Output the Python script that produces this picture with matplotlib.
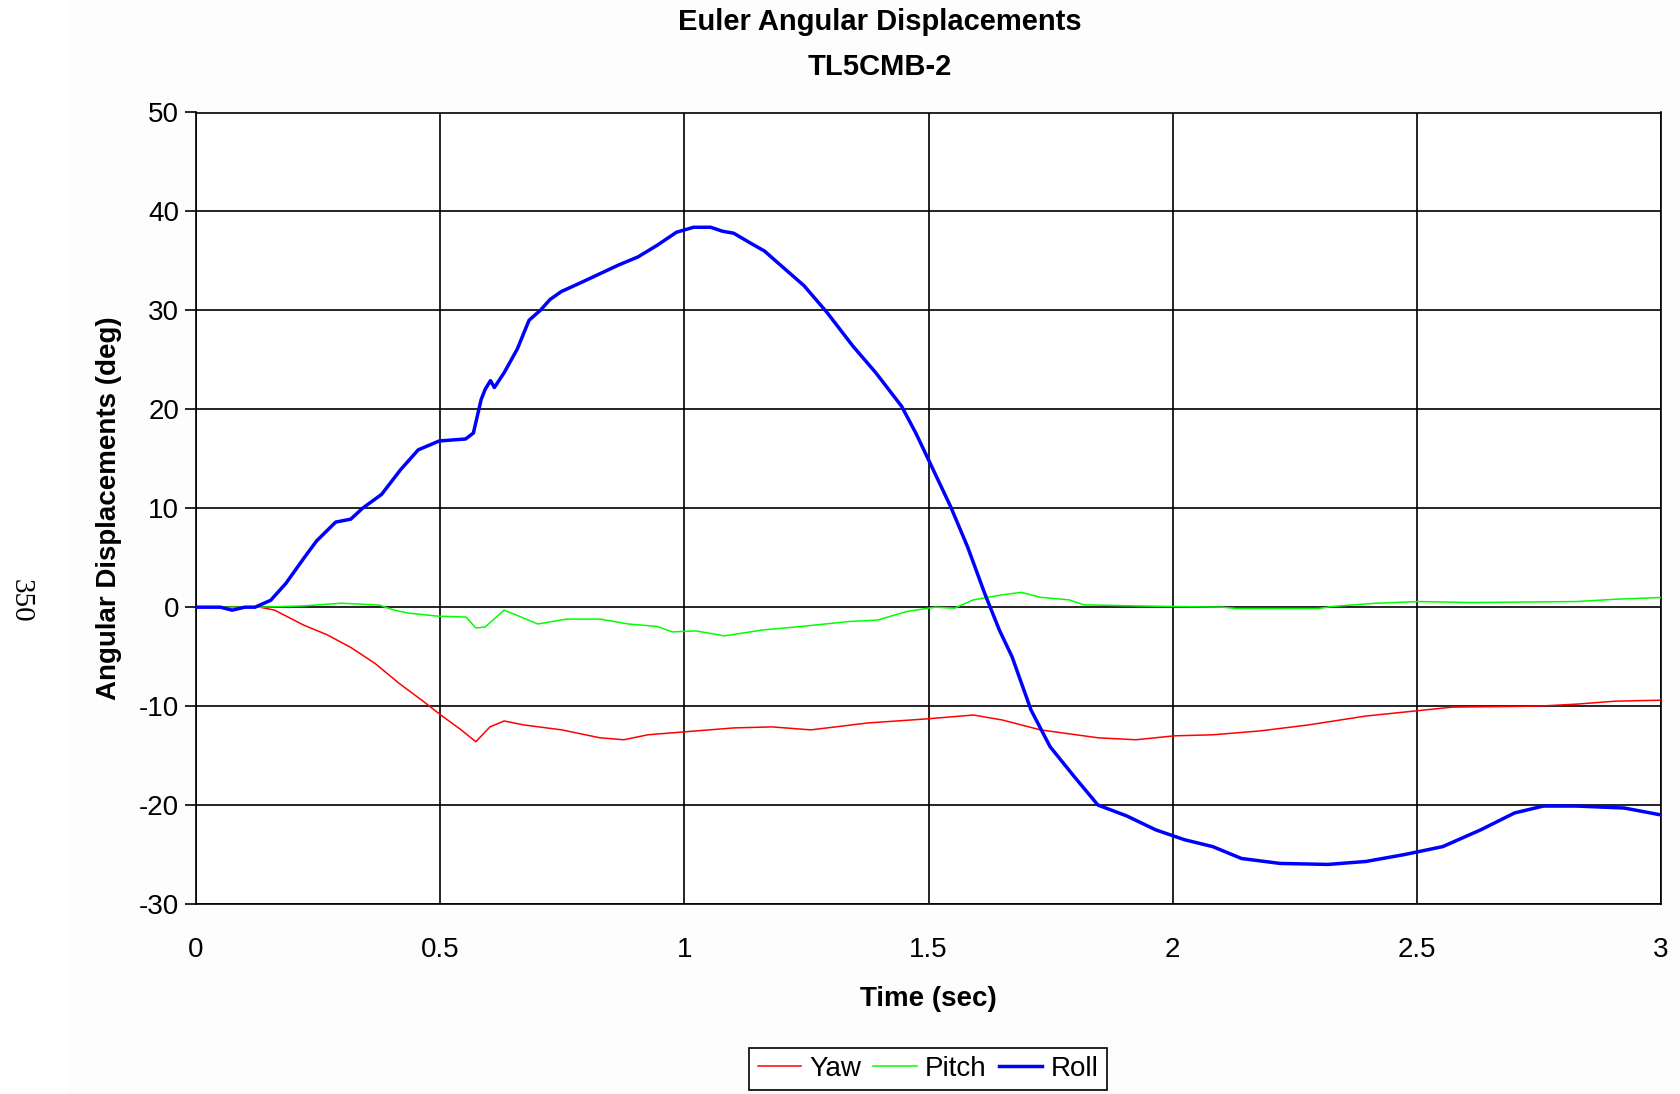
"""
Euler angular displacements, test TL5CMB-2
Yaw / pitch / roll traces vs time, Excel-like styling
"""
import matplotlib
matplotlib.use('Agg')
import matplotlib.pyplot as plt
from matplotlib.patches import Rectangle

# Data
# -----------------------------------
roll_t = [0.0, 0.05, 0.074, 0.1, 0.121, 0.153, 0.184, 0.223, 0.247, 0.286, 0.317, 0.341, 0.380,
          0.419, 0.455, 0.498, 0.552, 0.568, 0.584, 0.592, 0.603, 0.611, 0.631, 0.658, 0.682,
          0.705, 0.725, 0.748, 0.788, 0.827, 0.866, 0.905, 0.945, 0.984, 1.019, 1.054, 1.078,
          1.101, 1.132, 1.164, 1.194, 1.245, 1.292, 1.345, 1.392, 1.445, 1.474, 1.5, 1.545,
          1.580, 1.615, 1.645, 1.671, 1.710, 1.749, 1.798, 1.847, 1.906, 1.965, 2.024, 2.082,
          2.141, 2.220, 2.318, 2.396, 2.475, 2.553, 2.631, 2.700, 2.759, 2.827, 2.925, 3.0]
roll = [0.0, 0.0, -0.3, 0.0, 0.0, 0.7, 2.4, 5.1, 6.7, 8.6, 8.9, 10.0, 11.4,
        13.9, 15.9, 16.8, 17.0, 17.6, 21.0, 22.0, 22.9, 22.2, 23.7, 26.1, 29.0,
        30.0, 31.1, 31.9, 32.8, 33.7, 34.6, 35.4, 36.6, 37.9, 38.4, 38.4, 38.0,
        37.8, 36.9, 36.0, 34.7, 32.5, 29.8, 26.4, 23.7, 20.3, 17.6, 14.9, 10.2,
        6.1, 1.4, -2.3, -5.0, -10.4, -14.1, -17.1, -20.0, -21.1, -22.5, -23.5, -24.2,
        -25.4, -25.9, -26.0, -25.7, -25.0, -24.2, -22.5, -20.8, -20.1, -20.1, -20.3, -21.0]

yaw_t = [0.0, 0.131, 0.161, 0.220, 0.269, 0.318, 0.367, 0.416, 0.465, 0.504, 0.543, 0.573,
         0.602, 0.631, 0.671, 0.749, 0.827, 0.876, 0.925, 1.0, 1.102, 1.180, 1.259, 1.376,
         1.494, 1.592, 1.651, 1.729, 1.847, 1.925, 2.004, 2.082, 2.180, 2.278, 2.396, 2.514,
         2.573, 2.749, 2.827, 2.906, 3.0]
yaw = [0.0, 0.0, -0.3, -1.8, -2.8, -4.1, -5.7, -7.7, -9.5, -11.0, -12.4, -13.6,
       -12.1, -11.5, -11.9, -12.4, -13.2, -13.4, -12.9, -12.6, -12.2, -12.1, -12.4, -11.7,
       -11.3, -10.9, -11.4, -12.4, -13.2, -13.4, -13.0, -12.9, -12.5, -11.9, -11.0, -10.4,
       -10.1, -10.0, -9.8, -9.5, -9.4]

pitch_t = [0.0, 0.131, 0.22, 0.298, 0.340, 0.376, 0.406, 0.435, 0.494, 0.553, 0.573, 0.592,
           0.631, 0.661, 0.700, 0.759, 0.827, 0.886, 0.945, 0.975, 1.024, 1.082, 1.161, 1.239,
           1.337, 1.396, 1.455, 1.514, 1.553, 1.592, 1.651, 1.690, 1.729, 1.788, 1.818, 1.925,
           2.102, 2.131, 2.298, 2.327, 2.416, 2.504, 2.610, 2.827, 2.906, 3.0]
pitch = [0.0, 0.0, 0.13, 0.4, 0.3, 0.2, -0.3, -0.6, -0.9, -1.0, -2.1, -2.0,
         -0.3, -0.9, -1.7, -1.2, -1.2, -1.7, -1.95, -2.5, -2.4, -2.9, -2.3, -1.95,
         -1.45, -1.3, -0.44, 0.0, -0.1, 0.74, 1.25, 1.5, 1.0, 0.74, 0.24, 0.13,
         0.0, -0.13, -0.13, 0.07, 0.4, 0.57, 0.47, 0.57, 0.8, 0.98]

x_ticks = [0, 0.5, 1, 1.5, 2, 2.5, 3]
x_tick_labels = ['0', '0.5', '1', '1.5', '2', '2.5', '3']
y_ticks = [-30, -20, -10, 0, 10, 20, 30, 40, 50]

# Figure
# ------
plt.rcParams['font.family'] = ['Liberation Sans', 'DejaVu Sans']
plt.rcParams['axes.unicode_minus'] = False

fig = plt.figure(figsize=(16.8, 10.94), dpi=100)
fig.patches.append(Rectangle((68 / 1680, 0), 1 - 68 / 1680, 1, transform=fig.transFigure,
                             facecolor='#fdfdfd', edgecolor='none', zorder=-10))

ax = fig.add_axes([196 / 1680, 1 - 904 / 1094, (1661 - 196) / 1680, (904 - 112.5) / 1094])
ax.set_facecolor('white')

ax.plot(yaw_t, yaw, color='#ff0000', linewidth=1.1, label='Yaw', zorder=3)
ax.plot(pitch_t, pitch, color='#00ff00', linewidth=1.1, label='Pitch', zorder=3)
ax.plot(roll_t, roll, color='#0000ff', linewidth=2.5, label='Roll', zorder=4)

ax.set_xlim(0, 3)
ax.set_ylim(-30, 50)
ax.set_xticks(x_ticks)
ax.set_xticklabels(x_tick_labels)
ax.set_yticks(y_ticks)
ax.grid(True, color='black', linewidth=1.2, zorder=1)
ax.set_axisbelow(True)
for s in ax.spines.values():
    s.set_color('black')
    s.set_linewidth(1.2)

ax.tick_params(axis='y', direction='out', length=8, width=1.2, pad=4, labelsize=20)
ax.tick_params(axis='x', length=0, pad=24, labelsize=20)

ax.set_xlabel('Time (sec)', fontsize=20, fontweight='bold', labelpad=16)
ax.set_ylabel('Angular Displacements (deg)', fontsize=20, fontweight='bold', labelpad=12.5)

fig.text(880 / 1680, 1 - 22 / 1094, 'Euler Angular Displacements', ha='center', va='center',
         fontsize=21, fontweight='bold')
fig.text(880 / 1680, 1 - 67 / 1094, 'TL5CMB-2', ha='center', va='center',
         fontsize=21, fontweight='bold')

fig.text(21 / 1680, 1 - 601 / 1094, '350', rotation=-90, ha='center', va='center',
         fontsize=21, family='Liberation Serif')

leg = fig.legend(loc='center', bbox_to_anchor=(928 / 1680, 1 - 1069 / 1094), ncol=3,
                 fontsize=20, handlelength=1.55, handletextpad=0.3, columnspacing=0.45,
                 borderpad=0.3, fancybox=False, framealpha=1, edgecolor='black')
leg.get_frame().set_linewidth(1.2)

plt.savefig('out.png', dpi=100, facecolor='white')
